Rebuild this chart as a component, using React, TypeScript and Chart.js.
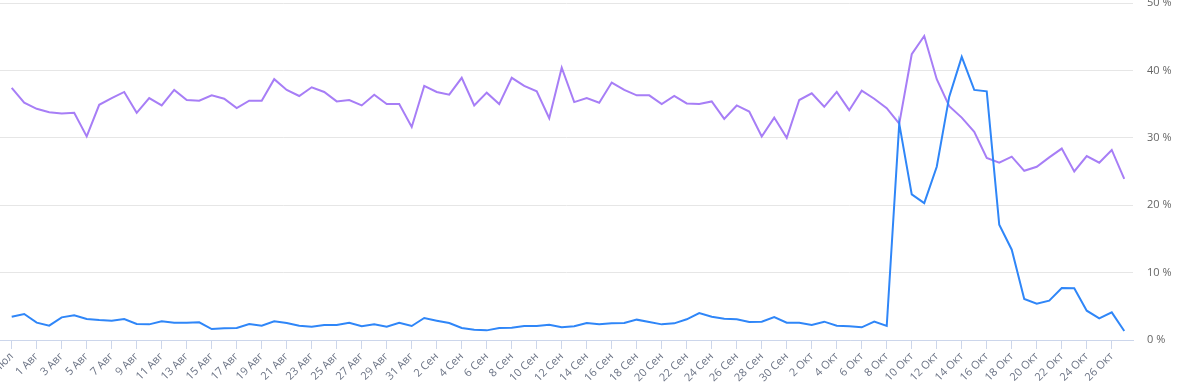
import React, { useEffect, useRef } from "react";
import { Chart, registerables } from "chart.js";

Chart.register(...registerables);

const categories: string[] = [
  "30 Июл", "31 Июл",
  "1 Авг", "2 Авг", "3 Авг", "4 Авг", "5 Авг", "6 Авг", "7 Авг", "8 Авг", "9 Авг", "10 Авг",
  "11 Авг", "12 Авг", "13 Авг", "14 Авг", "15 Авг", "16 Авг", "17 Авг", "18 Авг", "19 Авг", "20 Авг",
  "21 Авг", "22 Авг", "23 Авг", "24 Авг", "25 Авг", "26 Авг", "27 Авг", "28 Авг", "29 Авг", "30 Авг", "31 Авг",
  "1 Сен", "2 Сен", "3 Сен", "4 Сен", "5 Сен", "6 Сен", "7 Сен", "8 Сен", "9 Сен", "10 Сен",
  "11 Сен", "12 Сен", "13 Сен", "14 Сен", "15 Сен", "16 Сен", "17 Сен", "18 Сен", "19 Сен", "20 Сен",
  "21 Сен", "22 Сен", "23 Сен", "24 Сен", "25 Сен", "26 Сен", "27 Сен", "28 Сен", "29 Сен", "30 Сен",
  "1 Окт", "2 Окт", "3 Окт", "4 Окт", "5 Окт", "6 Окт", "7 Окт", "8 Окт", "9 Окт", "10 Окт",
  "11 Окт", "12 Окт", "13 Окт", "14 Окт", "15 Окт", "16 Окт", "17 Окт", "18 Окт", "19 Окт", "20 Окт",
  "21 Окт", "22 Окт", "23 Окт", "24 Окт", "25 Окт", "26 Окт", "27 Окт",
];

const blueSeries: number[] = [
  3.46, 3.86, 2.57, 2.13, 3.36, 3.66, 3.12, 2.97, 2.87, 3.12,
  2.37, 2.32, 2.77, 2.57, 2.57, 2.62, 1.63, 1.73, 1.78, 2.37,
  2.13, 2.77, 2.52, 2.13, 1.98, 2.23, 2.23, 2.57, 2.03, 2.32,
  1.98, 2.57, 2.08, 3.26, 2.87, 2.52, 1.78, 1.53, 1.43, 1.78,
  1.83, 2.08, 2.08, 2.27, 1.88, 2.03, 2.52, 2.32, 2.47, 2.52,
  3.02, 2.67, 2.32, 2.47, 3.07, 4.0, 3.46, 3.17, 3.07, 2.67,
  2.72, 3.41, 2.57, 2.57, 2.23, 2.72, 2.13, 2.03, 1.88, 2.72,
  2.08, 32.1, 21.6, 20.3, 25.7, 36.1, 42.0, 37.1, 36.9, 17.1,
  13.4, 6.08, 5.39, 5.84, 7.72, 7.67, 4.35, 3.21, 4.1, 1.34,
];

const purpleSeries: number[] = [
  37.4, 35.2, 34.3, 33.8, 33.6, 33.7, 30.2, 34.9, 35.9, 36.8,
  33.7, 35.9, 34.8, 37.1, 35.6, 35.5, 36.3, 35.8, 34.4, 35.5,
  35.5, 38.7, 37.1, 36.2, 37.5, 36.8, 35.4, 35.6, 34.8, 36.4,
  35.0, 35.0, 31.6, 37.7, 36.8, 36.4, 38.9, 34.8, 36.7, 35.0,
  38.9, 37.7, 36.9, 32.9, 40.4, 35.3, 35.9, 35.2, 38.2, 37.1,
  36.3, 36.3, 35.0, 36.2, 35.1, 35.0, 35.4, 32.8, 34.8, 33.9,
  30.2, 33.0, 30.0, 35.6, 36.6, 34.6, 36.8, 34.1, 37.0, 35.8,
  34.4, 32.1, 42.4, 45.1, 38.7, 34.7, 33.0, 30.9, 27.0, 26.3,
  27.2, 25.1, 25.7, 27.1, 28.4, 25.0, 27.3, 26.3, 28.2, 23.9,
];

const yTicks: number[] = [0, 10, 20, 30, 40, 50];

export default function App() {
  const canvasRef = useRef<HTMLCanvasElement | null>(null);

  useEffect(() => {
    if (!canvasRef.current) return;
    Chart.defaults.font.family = "'Open Sans', sans-serif";
    const chart = new Chart(canvasRef.current, {
      type: "line",
      data: {
        datasets: [
          {
            label: "blue",
            data: blueSeries.map((v, i) => ({ x: i, y: v })),
            borderColor: "#2f86f8",
            borderWidth: 2,
            pointRadius: 0,
            tension: 0,
            fill: false,
          },
          {
            label: "purple",
            data: purpleSeries.map((v, i) => ({ x: i, y: v })),
            borderColor: "#a77ef6",
            borderWidth: 2,
            pointRadius: 0,
            tension: 0,
            fill: false,
          },
        ],
      },
      options: {
        animation: false,
        responsive: true,
        maintainAspectRatio: false,
        layout: { padding: { top: 3, left: 0, right: 0, bottom: 0 } },
        plugins: {
          legend: { display: false },
          tooltip: { enabled: false },
        },
        scales: {
          x: {
            type: "linear",
            min: -0.936,
            max: 89.7,
            afterBuildTicks: (scale: any) => {
              scale.ticks = categories
                .map((_, i) => i)
                .filter((i) => i % 2 === 0)
                .map((i) => ({ value: i }));
            },
            afterFit: (scale: any) => {
              scale.height = 52;
              scale.paddingLeft = 0;
              scale.paddingRight = 0;
            },
            grid: {
              drawOnChartArea: false,
              drawTicks: true,
              tickLength: 9,
              tickColor: "#ccd6eb",
              tickWidth: 1,
            },
            border: { display: true, color: "#ccd6eb", width: 1 },
            ticks: {
              autoSkip: false,
              minRotation: 45,
              maxRotation: 45,
              padding: 1,
              color: "#6b7385",
              font: { size: 11 },
              callback: (value: any) => categories[value as number] ?? "",
            },
          },
          y: {
            position: "right",
            min: 0,
            max: 50,
            afterBuildTicks: (scale: any) => {
              scale.ticks = yTicks.map((v) => ({ value: v }));
            },
            afterFit: (scale: any) => {
              scale.width = 48;
              scale.paddingTop = 0;
              scale.paddingBottom = 0;
            },
            grid: { color: "#e6e6e6", drawTicks: false, lineWidth: 1 },
            border: { display: false },
            ticks: {
              padding: 14,
              color: "#666666",
              font: { size: 11 },
              callback: (value: any) => `${value} %`,
            },
          },
        },
      },
    });
    return () => chart.destroy();
  }, []);

  return (
    <div style={{ position: "absolute", left: 0, top: 0, width: 1181, height: 392 }}>
      <canvas ref={canvasRef} />
    </div>
  );
}
